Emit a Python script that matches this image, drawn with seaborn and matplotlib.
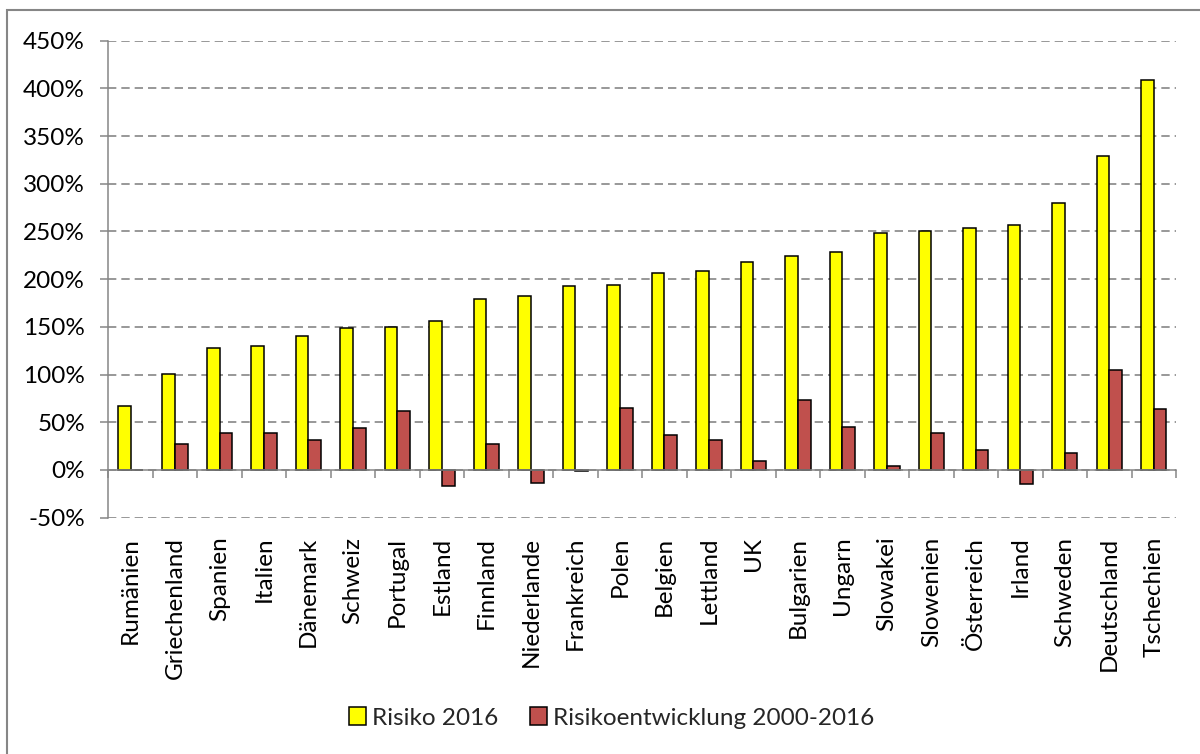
import matplotlib
matplotlib.use("Agg")
import matplotlib.pyplot as plt
import matplotlib.ticker as mticker
from matplotlib.patches import Patch, Rectangle
import numpy as np
import pandas as pd
import seaborn as sns

laender = ["Rumänien", "Griechenland", "Spanien", "Italien", "Dänemark", "Schweiz",
           "Portugal", "Estland", "Finnland", "Niederlande", "Frankreich", "Polen",
           "Belgien", "Lettland", "UK", "Bulgarien", "Ungarn", "Slowakei",
           "Slowenien", "Österreich", "Irland", "Schweden", "Deutschland", "Tschechien"]
risiko_2016 = [67, 101, 128, 130, 140, 149, 150, 156.5, 179, 182.5, 193, 194,
               206, 209, 218, 224, 228, 248, 251, 253.5, 257, 279.5, 329, 408.5]
entwicklung = [0.4, 27, 39, 39, 31, 44.5, 62, -16.5, 27, -14, -1.5, 65.5,
               36.5, 31.5, 9, 73, 45, 4, 39, 20.5, -15, 17.5, 104.5, 64]
serien = ["Risiko 2016", "Risikoentwicklung 2000-2016"]
farben = {"Risiko 2016": "#FFFF00", "Risikoentwicklung 2000-2016": "#C0504D"}
y_ticks = [-50, 0, 50, 100, 150, 200, 250, 300, 350, 400, 450]

df = pd.DataFrame({
    "Land": laender * 2,
    "Wert": risiko_2016 + entwicklung,
    "Serie": [serien[0]] * len(laender) + [serien[1]] * len(laender),
})

sns.set_theme(style="white")
plt.rcParams["font.family"] = ["Lato", "DejaVu Sans"]
FS = 17.5
GRAY = "#868686"

fig = plt.figure(figsize=(12, 7.54), dpi=100)
ax = fig.add_axes([108.3 / 1200, 1 - 517.7 / 754, 1067.7 / 1200, 477 / 754])

sns.barplot(data=df, x="Land", y="Wert", hue="Serie", palette=farben,
            hue_order=serien, order=laender, width=0.57, saturation=1,
            edgecolor="black", linewidth=1.1, ax=ax, legend=False)

ax.set_xlim(-0.5, len(laender) - 0.5)
ax.set_ylim(-50, 450)
ax.set_yticks(y_ticks)
ax.yaxis.set_major_formatter(mticker.FuncFormatter(lambda v, p: f"{v:.0f}%"))
ax.set_xlabel("")
ax.set_ylabel("")

ax.set_axisbelow(True)
ax.yaxis.grid(True, color=GRAY, linestyle=(0, (5, 3)), linewidth=1.2)
ax.xaxis.grid(False)

for s in ["top", "right"]:
    ax.spines[s].set_visible(False)
ax.spines["left"].set_color(GRAY)
ax.spines["left"].set_linewidth(1.1)
ax.spines["bottom"].set_position(("data", 0))
ax.spines["bottom"].set_color(GRAY)
ax.spines["bottom"].set_linewidth(1.1)
ax.spines["bottom"].set_zorder(3)

ax.xaxis.set_minor_locator(mticker.FixedLocator(np.arange(-0.5, len(laender), 1.0)))
ax.tick_params(axis="x", which="major", length=0, pad=48, labelsize=FS,
               labelrotation=90, colors="black")
ax.tick_params(axis="x", which="minor", length=5.8, width=1.1, color=GRAY,
               direction="out", bottom=True)
ax.tick_params(axis="y", which="major", length=5.8, width=1.1, color=GRAY,
               direction="out", left=True, pad=11, labelsize=FS, labelcolor="black")
for lbl in ax.get_xticklabels():
    lbl.set_verticalalignment("top")
    lbl.set_horizontalalignment("center")

handles = [Patch(facecolor=farben[s], edgecolor="black", linewidth=1.1, label=s)
           for s in serien]
fig.legend(handles=handles, loc="center", bbox_to_anchor=(612 / 1200, 1 - 718 / 754),
           ncol=2, frameon=False, fontsize=FS, handlelength=0.7, handleheight=0.7,
           handletextpad=0.25, columnspacing=1.3)

fig.patches.append(Rectangle((7 / 1200, -0.02), 1.05, 1 + 0.02 - 10 / 754,
                             transform=fig.transFigure, fill=False,
                             edgecolor=GRAY, linewidth=1.5))

fig.savefig("out.png", dpi=100)
